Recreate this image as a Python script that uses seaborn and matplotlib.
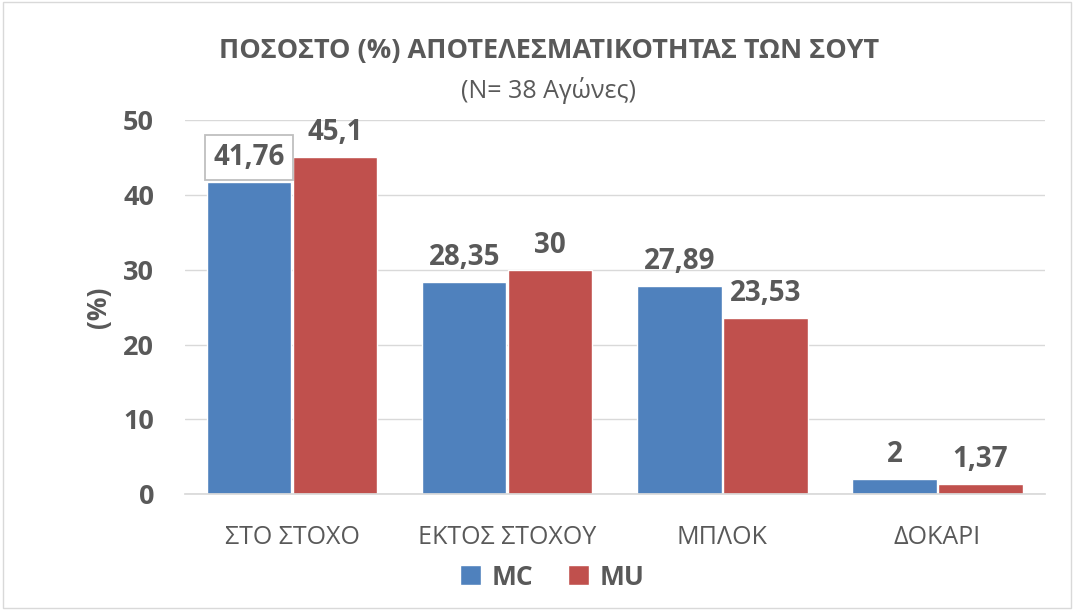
import matplotlib
matplotlib.use('Agg')
import matplotlib.pyplot as plt
import pandas as pd
import seaborn as sns
from matplotlib.patches import Rectangle

# Δεδομένα του γραφήματος
categories = ['ΣΤΟ ΣΤΟΧΟ', 'ΕΚΤΟΣ ΣΤΟΧΟΥ', 'ΜΠΛΟΚ', 'ΔΟΚΑΡΙ']
mc_values = [41.76, 28.35, 27.89, 2]
mu_values = [45.1, 30, 23.53, 1.37]
series_names = ['MC', 'MU']
y_ticks = [0, 10, 20, 30, 40, 50]

text_color = '#595959'
palette = {'MC': '#4F81BD', 'MU': '#C0504D'}

sns.set_theme(style='white')
plt.rcParams['font.family'] = ['Open Sans', 'DejaVu Sans']

data = pd.DataFrame({
    'category': categories * 2,
    'value': mc_values + mu_values,
    'team': [series_names[0]] * len(categories) + [series_names[1]] * len(categories),
})

fig = plt.figure(figsize=(10.74, 6.10), dpi=100)
ax = fig.add_axes([0.172, 0.190, 0.801, 0.613])

sns.barplot(data=data, x='category', y='value', hue='team', palette=palette,
            order=categories, hue_order=series_names, width=0.8, gap=0.02,
            saturation=1, ax=ax)

ax.set_ylim(0, 50)
ax.set_yticks(y_ticks)
ax.set_yticklabels([str(t) for t in y_ticks], fontsize=19.5, fontweight='bold', color=text_color)
ax.tick_params(axis='y', length=0, pad=22)
ax.tick_params(axis='x', length=0, pad=22, labelsize=18, labelcolor=text_color)
ax.grid(True, axis='y', color='#D9D9D9', linewidth=1)
ax.set_axisbelow(True)
for side in ['top', 'right', 'left']:
    ax.spines[side].set_visible(False)
ax.spines['bottom'].set_color('#D9D9D9')
ax.set_xlabel('')
ax.set_ylabel('(%)', fontsize=19, fontweight='bold', color=text_color, labelpad=8)

# Ετικέτες τιμών
for container in ax.containers:
    labels = [f'{v:g}'.replace('.', ',') for v in container.datavalues]
    texts = ax.bar_label(container, labels=labels, padding=7, fontsize=20,
                         fontweight='bold', color=text_color)
    for t, v in zip(texts, container.datavalues):
        if v == mc_values[0]:
            t.set_bbox(dict(facecolor='white', edgecolor='#BFBFBF', linewidth=1.3,
                            boxstyle='square,pad=0.3'))

# Υπόμνημα
fig.legend(*ax.get_legend_handles_labels(), loc='center', bbox_to_anchor=(0.514, 0.054),
           ncol=2, frameon=False, prop={'size': 19, 'weight': 'bold'}, labelcolor=text_color,
           handlelength=0.8, handleheight=0.8, handletextpad=0.4, columnspacing=1.3)
ax.get_legend().remove()

fig.text(0.511, 0.917, 'ΠΟΣΟΣΤΟ (%) ΑΠΟΤΕΛΕΣΜΑΤΙΚΟΤΗΤΑΣ ΤΩΝ ΣΟΥΤ', ha='center', va='center',
         fontsize=19.5, fontweight='bold', color=text_color)
fig.text(0.511, 0.851, '(N= 38 Αγώνες)', ha='center', va='center',
         fontsize=18, color=text_color)

# Πλαίσιο γύρω από το γράφημα
fig.patches.append(Rectangle((0.003, 0.004), 0.994, 0.992, transform=fig.transFigure,
                             fill=False, edgecolor='#D9D9D9', linewidth=1))

plt.savefig('out.png', dpi=100)
plt.close()
